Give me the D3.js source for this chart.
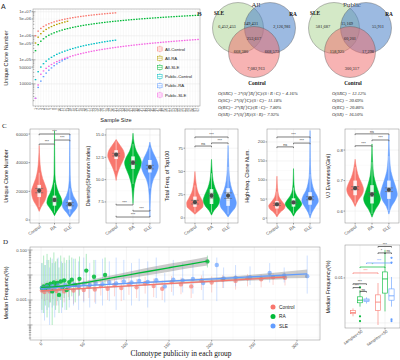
<!DOCTYPE html>
<html><head><meta charset="utf-8">
<script src="https://cdn.jsdelivr.net/npm/d3@7"></script>
<style>body{margin:0;background:#fff}svg{display:block}</style>
</head><body><svg id="c" width="400" height="360"></svg>
<script>
// ================= DATA =================
// Panel A: rarefaction (unique clone number vs sample size)
const sampleSizes = [1,2,3,4,5,6,7,8,9,10,11,12,13,14,15,16,17,18,19,20,21,22,23,24,25,26,27,28,29,30,31,32,33,34,35,36,37,38,39,40,41,42,43,44,45,46,47,48,49,50,51,52,53,54,55,56,57,58,59,60,61,62];
const aSeriesNames = ["All-Control","All-RA","All-SLE","Public-Control","Public-RA","Public-SLE"];
const allControl = [1.00e6,1.56e6,2.02e6,2.43e6,2.80e6,3.15e6,3.47e6,3.78e6,4.08e6,4.37e6,4.64e6,4.91e6,5.17e6,5.42e6,5.66e6,5.90e6,6.13e6,6.36e6,6.58e6,6.80e6,7.02e6,7.23e6,7.44e6,7.64e6,7.85e6,8.04e6,8.24e6,8.43e6,8.62e6,8.81e6,8.99e6];
const allRA = [5.0e5,8.75e5,1.22e6,1.54e6,1.84e6,2.14e6,2.42e6,2.70e6,2.97e6,3.23e6,3.49e6,3.75e6,4.00e6];
const allSLE = [240000,428000,595000,752000,905000,1053000,1194000,1331000,1466000,1599000,1728000,1856000,1982000,2105000,2229000,2347000,2468000,2589000,2710000,2831000,2928000,3049000,3170000,3267000,3388000,3509000,3606000,3727000,3824000,3945000,4041000,4138000,4259000,4356000,4453000,4574000,4671000,4767000,4864000,4985000,5082000,5179000,5276000,5372000,5469000,5566000,5687000,5784000,5881000,5977000,6074000,6171000,6268000,6365000,6461000,6558000,6655000,6752000,6849000,6945000,7042000,7139000];
const pubControl = [15000,32000,50000,69000,88000,108000,127000,148000,169000,189000,209000,230000,250000,273000,294000,316000,339000,361000,384000,405000,426000,449000,471000,493000,518000,543000,565000,588000,611000,635000,656000];
const pubRA = [2500,7100,13000,20000,28000,37000,46000,57000,68000,79000,91000,104000,117000];
const pubSLE = [2500,9000,25100,34500,44100,53800,63800,73900,84100,94400,104900,115400,126000,136700,147500,158400,169200,180200,191200,202000,213600,224700,236000,247300,258800,270000,281700,293200,304500,316000,327800,339400,351200,362900,374600,386400,398200,410000,422000,433800,445900,457700,469900,481800,493800,505800,518200,530300,542400,554600,566900,578800,591000,603400,615900,628300,640400,652900,665200,677700,689900,702500];
const aTicks = [1e4,5e4,1e5,5e5,1e6,5e6,1e7];
const aTickLabels = ["10000","50000","1e+05","5e+05","1e+06","5e+06","1e+07"];

// Panel B: Venn counts [S only, S∩R, R only, S∩R∩C, S∩C, R∩C, C only]
const vennSets = ["SLE","RA","Control"];
const vennAll = ["6,452,453","149,431","2,126,981","253,617","668,380","668,573","7,082,913"];
const vennPublic = ["581,687","15,169","55,911","60,201","158,925","17,298","300,317"];
const overlapAllText = ["O(SRC) = 3*(S⋂R⋂C)/(S+R+C) = 4.16%","O(SC)= 2*(S⋂C)/(S+C)= 11.18%","O(RC)= 2*(R⋂C)/(R+C)= 7.80%","O(SR)= 2*(S⋂R)/(S+R)= 7.92%"];
const overlapPublicText = ["O(SRC) = 12.12%","O(SC) = 30.69%","O(RC) = 20.80%","O(SR) = 16.50%"];

// Panel C: violins  ([value, relative width])
const groups = ["Control","RA","SLE"];
const uniqueViolin = [
 [[6000,0],[9000,0.25],[13000,0.7],[17000,0.95],[20000,1],[24000,0.8],[29000,0.45],[35000,0.2],[42000,0.08],[52000,0]],
 [[3000,0],[6000,0.3],[9000,0.7],[12000,1],[15000,0.9],[19000,0.55],[25000,0.2],[32000,0.06],[45000,0.03],[62000,0]],
 [[2000,0],[5000,0.4],[8000,0.85],[10500,1],[13000,0.85],[17000,0.45],[23000,0.15],[32000,0.05],[45000,0.025],[60000,0]]];
const uniqueBox = [[9000,16000,19500,24500,33000],[5000,10000,13000,17000,26000],[4000,7500,10000,14000,22000]];
const uniqueMean = [[20500,1500],[14000,1200],[11000,1100]];
const uniqueSig = [[0,2,60000,"***"],[0,1,53000,"***"],[1,2,55800,"***"]];

const divViolin = [
 [[9.9,0],[10.6,0.15],[11.3,0.4],[12.0,0.75],[12.7,1],[13.3,0.85],[13.8,0.5],[14.2,0.2],[14.5,0]],
 [[7.3,0],[8.5,0.08],[9.5,0.2],[10.5,0.5],[11.3,0.85],[11.9,1],[12.5,0.8],[13.2,0.4],[14.0,0.15],[15.2,0]],
 [[5.8,0],[7.5,0.05],[9.0,0.15],[10.0,0.4],[10.8,0.8],[11.5,1],[12.2,0.8],[12.9,0.45],[13.6,0.15],[14.2,0]]];
const divBox = [[11.0,12.3,12.8,13.3,14.3],[9.5,11.2,11.9,12.6,14.0],[9.0,10.8,11.5,12.2,13.6]];
const divMean = [[12.8,0.15],[11.9,0.2],[11.4,0.2]];
const divSig = [[0,1,7.16,"***"],[1,2,6.48,"***"],[0,2,5.81,"***"]];

const topViolin = [
 [[4,0],[8,0.5],[12,0.95],[16,1],[21,0.75],[27,0.4],[34,0.2],[42,0.08],[50,0]],
 [[3,0],[8,0.3],[13,0.75],[19,1],[25,0.8],[32,0.45],[40,0.2],[50,0.08],[63,0]],
 [[1,0],[6,0.4],[11,0.85],[16,1],[23,0.8],[31,0.45],[40,0.22],[52,0.1],[65,0.04],[78,0]]];
const topBox = [[6,12,16,23,35],[6,15,21,31,48],[4,13,19,32,55]];
const topMean = [[17,2],[24,2.5],[24,3]];
const topSig = [[0,2,87,"***"],[0,1,77.3,"ns"],[1,2,80.6,"***"]];

const highViolin = [
 [[3,0],[15,0.4],[25,0.9],[32,1],[40,0.75],[52,0.35],[70,0.12],[90,0.04],[110,0]],
 [[5,0],[18,0.35],[30,0.85],[37,1],[46,0.8],[58,0.4],[75,0.12],[100,0.04],[130,0]],
 [[0,0],[15,0.25],[30,0.65],[45,1],[58,0.85],[72,0.5],[90,0.25],[120,0.08],[160,0.03],[230,0]]];
const highBox = [[10,25,33,45,70],[12,30,38,52,80],[10,35,48,68,115]];
const highMean = [[36,3],[41,3],[52,4]];
const highSig = [[0,2,213,"***"],[0,1,187,"ns"],[1,2,197,"***"]];

const vjViolin = [
 [[0.615,0],[0.635,0.35],[0.655,0.85],[0.67,1],[0.69,0.8],[0.71,0.45],[0.735,0.2],[0.755,0.07],[0.77,0]],
 [[0.58,0],[0.605,0.4],[0.625,0.85],[0.64,1],[0.66,0.8],[0.685,0.5],[0.715,0.22],[0.76,0.08],[0.82,0]],
 [[0.59,0],[0.615,0.3],[0.635,0.75],[0.655,1],[0.675,0.85],[0.70,0.55],[0.73,0.25],[0.77,0.1],[0.85,0]]];
const vjBox = [[0.625,0.652,0.672,0.70,0.745],[0.59,0.625,0.648,0.685,0.76],[0.60,0.64,0.662,0.70,0.78]];
const vjMean = [[0.675,0.005],[0.655,0.006],[0.67,0.006]];
const vjSig = [[0,2,0.853,"ns"],[0,1,0.814,"***"],[1,2,0.833,"***"]];

// Panel D: [publicity, median freq, lower, upper]
const pubControlPts = [[1,0.0024,0.0011,0.0048],[4,0.0021,0.0009,0.0050],[7,0.0027,0.0010,0.0060],[10,0.0022,0.0008,0.0052],[14,0.0028,0.0011,0.0058],[18,0.0023,0.0006,0.0070],[22,0.0029,0.0012,0.0055],[27,0.0022,0.0008,0.0062],[32,0.0030,0.0013,0.0058],[38,0.0024,0.0007,0.0066],[44,0.0032,0.0014,0.0062],[50,0.0025,0.0009,0.0075],[56,0.0034,0.0012,0.0064],[63,0.0026,0.0008,0.0066],[70,0.0036,0.0015,0.0072],[78,0.0028,0.0010,0.0066],[86,0.0040,0.0014,0.0080],[94,0.0030,0.0009,0.0070],[103,0.0043,0.0016,0.0078],[112,0.0032,0.0012,0.0068],[122,0.0047,0.0018,0.0085],[132,0.0036,0.0013,0.0072],[142,0.0028,0.0010,0.0060],[153,0.0052,0.0021,0.0090],[164,0.0042,0.0017,0.0080],[176,0.0035,0.0012,0.0065],[188,0.0060,0.0025,0.0095],[200,0.0050,0.0020,0.0088],[213,0.0066,0.0030,0.0100],[228,0.0058,0.0026,0.0095],[242,0.0074,0.0035,0.0110],[258,0.0068,0.0032,0.0105],[272,0.0082,0.0040,0.0120],[286,0.0078,0.0038,0.0115]];
const pubRAPts = [[1,0.0030,0.0004,0.030],[3,0.0035,0.0003,0.060],[5,0.0028,0.0006,0.025],[7,0.0040,0.0002,0.070],[9,0.0033,0.0005,0.040],[11,0.0045,0.0008,0.050],[13,0.0022,0.0001,0.030],[15,0.0050,0.0006,0.080],[17,0.0036,0.0004,0.035],[19,0.0048,0.0009,0.045],[21,0.0016,0.0003,0.020],[23,0.0055,0.0010,0.060],[25,0.0032,0.0005,0.030],[27,0.0060,0.0012,0.050],[30,0.0025,0.0004,0.040],[33,0.0052,0.0010,0.060],[36,0.0065,0.0014,0.050],[40,0.0040,0.0008,0.045],[45,0.0070,0.0015,0.055],[53,0.0150,0.0030,0.070],[62,0.0085,0.0025,0.040],[75,0.0100,0.0030,0.050],[195,0.035,0.020,0.060]];
const pubSLEPts = [[1,0.0031,0.0003,0.030],[4,0.0029,0.00015,0.025],[7,0.0034,0.0004,0.040],[10,0.0027,0.0001,0.020],[13,0.0036,0.0005,0.045],[16,0.0030,0.0002,0.030],[20,0.0038,0.0006,0.050],[24,0.0033,0.0003,0.035],[28,0.0040,0.0004,0.030],[33,0.0035,0.0005,0.040],[38,0.0042,0.0006,0.045],[44,0.0037,0.0004,0.035],[50,0.0045,0.0008,0.050],[57,0.0040,0.0005,0.030],[64,0.0048,0.0007,0.040],[72,0.0043,0.0006,0.045],[80,0.0052,0.0009,0.035],[88,0.0046,0.0004,0.050],[97,0.0055,0.0010,0.040],[106,0.0050,0.0006,0.030],[115,0.0058,0.0009,0.045],[125,0.0053,0.0005,0.035],[135,0.0062,0.0012,0.050],[145,0.0035,0.0008,0.012],[155,0.0065,0.0015,0.040],[166,0.0060,0.0020,0.030],[178,0.0070,0.0018,0.035],[190,0.0048,0.0010,0.015],[206,0.0250,0.0009,0.050],[214,0.0072,0.0030,0.020],[228,0.0078,0.0035,0.025],[245,0.0080,0.0040,0.022],[268,0.0120,0.0050,0.030],[285,0.0095,0.0050,0.020],[312,0.0090,0.0018,0.060]];
// fitted trend [x, fit, lower, upper]
const fitControl = [[0,0.0023,0.0021,0.0025],[72,0.0032,0.0030,0.0034],[143,0.0044,0.0041,0.0047],[215,0.0060,0.0054,0.0067],[286,0.0083,0.0068,0.0101]];
const fitRA = [[0,0.0032,0.0029,0.0036],[25,0.0036,0.0033,0.0040],[50,0.0048,0.0042,0.0055],[75,0.0069,0.0055,0.0087],[100,0.0097,0.0072,0.013],[125,0.0138,0.0098,0.0195],[150,0.0195,0.0135,0.028],[175,0.0275,0.019,0.040],[195,0.036,0.024,0.054]];
const fitSLE = [[0,0.0030,0.0028,0.0032],[78,0.0042,0.0040,0.0044],[156,0.0058,0.0053,0.0063],[234,0.0080,0.0068,0.0094],[312,0.0111,0.0075,0.0165]];
const dXTicks = [0,50,100,150,200,250,300];

// Panel D right: boxes [min, q1, median, q3, max], outliers
const boxCats = ["samples<50","samples>=50"];
const boxLow = [[0.0014,0.0016,0.0017,0.0019,0.0021],[0.0023,0.0028,0.0032,0.0038,0.0054],[0.0027,0.0030,0.0032,0.0034,0.0037]];
const boxHigh = [[0.0009,0.0019,0.0029,0.0042,0.0077],[0.0018,0.0046,0.0095,0.0136,0.042],[0.0023,0.0032,0.0040,0.0057,0.0105]];
const outLow = [[],[0.0062,0.0014,0.0011],[]];
const outHigh = [[],[],[0.028,0.022,0.0012,0.0011]];
// [cat1, group1, cat2, group2, y value, label, colour index (-1 = black)]
const boxSig = [[1,0,1,2,0.050,"***",-1],[1,0,1,1,0.036,"*",-1],[1,1,1,2,0.036,"ns",-1],[0,2,1,2,0.0215,"***",2],[0,1,1,1,0.0175,"*",1],[0,0,1,0,0.0129,"***",0],[0,0,0,2,0.0074,"***",-1],[0,0,0,1,0.0061,"***",-1],[0,1,0,2,0.0050,"ns",-1]];

// ================= DRAWING =================
const SANS = '"Liberation Sans", Arial, sans-serif';
const SERIF = '"Liberation Serif", "Times New Roman", serif';
const gCol = ["#F8766D","#00BA38","#619CFF"];
const aColors = ["#F8766D","#B79F00","#00BA38","#00BFC4","#619CFF","#F564E3"];
const svg = d3.select("#c");
svg.append("rect").attr("width",400).attr("height",360).attr("fill","#fff");

function txt(g,x,y,s,size,o={}){
  const t=g.append("text").attr("x",x).attr("y",y).text(s).attr("font-size",size)
    .attr("font-family",o.family||SANS).attr("fill",o.fill||"#222");
  if(o.anchor)t.attr("text-anchor",o.anchor);
  if(o.rotate!=null)t.attr("transform",`rotate(${o.rotate},${x},${y})`);
  if(o.weight)t.attr("font-weight",o.weight);
  if(o.style)t.attr("font-style",o.style);
  return t;
}
function hline(g,x1,x2,y,c,w){g.append("line").attr("x1",x1).attr("x2",x2).attr("y1",y).attr("y2",y).attr("stroke",c).attr("stroke-width",w);}
function vline(g,x,y1,y2,c,w){g.append("line").attr("x1",x).attr("x2",x).attr("y1",y1).attr("y2",y2).attr("stroke",c).attr("stroke-width",w);}
function frame(g,x0,y0,x1,y1){g.append("rect").attr("x",x0).attr("y",y0).attr("width",x1-x0).attr("height",y1-y0).attr("fill","none").attr("stroke","#8a8a8a").attr("stroke-width",0.5);}

// panel letters
txt(svg,1,9,"A",7,{family:SANS});
txt(svg,197,16,"B",7,{family:SERIF,weight:"bold"});
txt(svg,2,128,"C",7,{family:SERIF});
txt(svg,3,244,"D",7,{family:SERIF});

// ---------- Panel A ----------
(function(){
  const g=svg.append("g");
  const X0=33,X1=200,Y0=9,Y1=106;
  const x=d3.scalePoint().domain(sampleSizes).range([35.5,198]);
  const y=d3.scaleLog().domain([1200,1.3e7]).range([Y1,Y0]);
  [5e3,5e4,5e5,5e6].forEach(v=>hline(g,X0,X1,y(v),"#f2f2f2",0.35));
  [1e4,1e5,1e6,1e7].forEach(v=>hline(g,X0,X1,y(v),"#e6e6e6",0.5));
  sampleSizes.forEach(s=>vline(g,x(s),Y0,Y1,"#ececec",0.35));
  frame(g,X0,Y0,X1,Y1);
  for(let d=3; d<=7; d++){ for(let m=1;m<=9;m++){ const v=m*Math.pow(10,d); if(v<1200||v>1.3e7)continue;
    hline(g,X0,X0+(m===1?2.5:1.3),y(v),"#444",0.4);} }
  aTicks.forEach((v,i)=>{hline(g,X0-1.5,X0,y(v),"#444",0.5); txt(g,X0-2,y(v)+1.5,aTickLabels[i],4.2,{anchor:"end",fill:"#4d4d4d"});});
  sampleSizes.forEach(s=>{vline(g,x(s),Y1,Y1+1.2,"#444",0.3); txt(g,x(s)+1.1,Y1+2,String(s),3.1,{anchor:"end",rotate:-90,fill:"#4d4d4d"});});
  txt(g,116,122,"Sample Size",5.6,{anchor:"middle",fill:"#222"});
  txt(g,8,58,"Unique Clone Number",5.6,{anchor:"middle",rotate:-90});
  const series=[allControl,allRA,allSLE,pubControl,pubRA,pubSLE];
  series.forEach((arr,k)=>{
    g.selectAll(null).data(arr).join("rect")
      .attr("x",(d,i)=>x(sampleSizes[i])-0.8).attr("y",d=>y(d)-0.65)
      .attr("width",1.6).attr("height",1.3).attr("fill",aColors[k]);
  });
  const ly=[49,58.2,67.4,76.6,85.8,95];
  aSeriesNames.forEach((n,k)=>{
    const c=aColors[k];
    g.append("rect").attr("x",157.5).attr("y",ly[k]-2).attr("width",4.6).attr("height",4).attr("fill","#fff").attr("stroke",c).attr("stroke-width",0.5);
    hline(g,157.5,162.1,ly[k],c,0.5);
    vline(g,159.8,ly[k]-3.3,ly[k]-2,c,0.5); vline(g,159.8,ly[k]+2,ly[k]+3.3,c,0.5);
    txt(g,165,ly[k]+1.5,n,4.3,{fill:"#222"});
  });
})();

// ---------- Panel B ----------
(function(){
  const g=svg.append("g");
  const fills=["#a9d48f","#4a82c8","#ef6868"], ops=[0.5,0.55,0.5];
  const circOff=[[-16,0],[16,0],[0,24]];
  const numOff=[[-27,-2],[-3,-5],[28,-2],[0,10],[-13,23],[18,23],[2,40]];
  const setOff=[[-35,-15],[39,-14],[3,55.5]];
  const venns=[{cx:254,cy:28,title:"All",nums:vennAll},{cx:350,cy:28,title:"Public",nums:vennPublic}];
  venns.forEach(v=>{
    txt(g,v.cx+2,7,v.title,7,{family:SERIF,anchor:"middle"});
    circOff.forEach((o,i)=>g.append("circle").attr("cx",v.cx+o[0]).attr("cy",v.cy+o[1]).attr("r",25.5)
      .attr("fill",fills[i]).attr("fill-opacity",ops[i]).attr("stroke","#555").attr("stroke-width",0.4));
    v.nums.forEach((s,i)=>txt(g,v.cx+numOff[i][0],v.cy+numOff[i][1]+1.5,s,4.4,{family:SERIF,anchor:"middle",fill:"#222"}));
    vennSets.forEach((s,i)=>txt(g,v.cx+setOff[i][0],v.cy+setOff[i][1]+1.8,s,5.3,{family:SERIF,anchor:"middle",weight:"bold",fill:"#111"}));
  });
  const ys=[94.5,101.7,109,116.2];
  overlapAllText.forEach((s,i)=>txt(g,218,ys[i],s,4.6,{family:SERIF,style:"italic",fill:"#222"}));
  overlapPublicText.forEach((s,i)=>txt(g,332,ys[i],s,4.6,{family:SERIF,style:"italic",fill:"#222"}));
})();

// ---------- Panel C ----------
const cPanels=[
 {x0:30,x1:79,dom:[-2100,63500],ticks:[0,20000,40000,60000],fmt:d=>String(d),ylab:"Unique Clone Number",ylx:8,v:uniqueViolin,b:uniqueBox,m:uniqueMean,s:uniqueSig,below:false},
 {x0:106,x1:160,dom:[5.14,15.67],ticks:[7.5,10,12.5,15],fmt:d=>d.toFixed(1),ylab:"Diversity(Shannon Index)",ylx:90,v:divViolin,b:divBox,m:divMean,s:divSig,below:true},
 {x0:185,x1:238,dom:[-5.4,95.6],ticks:[0,25,50,75],fmt:d=>String(d),ylab:"Total Freq. of Top100",ylx:169,v:topViolin,b:topBox,m:topMean,s:topSig,below:false},
 {x0:267,x1:320,dom:[-13,234],ticks:[0,50,100,150,200],fmt:d=>String(d),ylab:"High-freq. Clone Num.",ylx:249,v:highViolin,b:highBox,m:highMean,s:highSig,below:false},
 {x0:345,x1:399,dom:[0.561,0.869],ticks:[0.6,0.7,0.8],fmt:d=>d.toFixed(1),ylab:"VJ Evenness(Gini)",ylx:330,v:vjViolin,b:vjBox,m:vjMean,s:vjSig,below:false}];
cPanels.forEach(p=>{
  const g=svg.append("g");
  const Y0=129,Y1=223;
  const x=d3.scalePoint().domain(groups).range([p.x0,p.x1]).padding(0.6);
  const y=d3.scaleLinear().domain(p.dom).range([Y1,Y0]);
  const step=x.step();
  for(let i=0;i<p.ticks.length-1;i++) hline(g,p.x0,p.x1,y((p.ticks[i]+p.ticks[i+1])/2),"#f3f3f3",0.35);
  p.ticks.forEach(t=>hline(g,p.x0,p.x1,y(t),"#e8e8e8",0.5));
  groups.forEach(gr=>vline(g,x(gr),Y0,Y1,"#e8e8e8",0.5));
  frame(g,p.x0,Y0,p.x1,Y1);
  p.ticks.forEach(t=>{hline(g,p.x0-1.5,p.x0,y(t),"#444",0.5); txt(g,p.x0-2,y(t)+1.5,p.fmt(t),4.3,{anchor:"end",fill:"#4d4d4d"});});
  groups.forEach(gr=>{vline(g,x(gr),Y1,Y1+1.5,"#444",0.5); txt(g,x(gr)+2,Y1+4.5,gr,4.4,{anchor:"end",rotate:-35,fill:"#4d4d4d"});});
  txt(g,p.ylx,176,p.ylab,5.4,{anchor:"middle",rotate:-90});
  const hw=step*0.5;
  groups.forEach((gr,i)=>{
    const cx=x(gr);
    const area=d3.area().y(d=>y(d[0])).x0(d=>cx-d[1]*hw).x1(d=>cx+d[1]*hw).curve(d3.curveMonotoneY);
    g.append("path").attr("d",area(p.v[i])).attr("fill",gCol[i]).attr("stroke",gCol[i]).attr("stroke-width",0.5);
    const b=p.b[i];
    vline(g,cx,y(b[0]),y(b[4]),"#fff",0.5);
    g.append("rect").attr("x",cx-1.8).attr("y",y(b[3])).attr("width",3.6).attr("height",y(b[1])-y(b[3])).attr("fill","#fff").attr("fill-opacity",0.85);
    hline(g,cx-1.8,cx+1.8,y(b[2]),"#bbb",0.4);
    const m=p.m[i];
    vline(g,cx,y(m[0]-m[1]),y(m[0]+m[1]),"#555",0.5);
    hline(g,cx-4,cx+4,y(m[0]+m[1]),"#666",0.6);
    hline(g,cx-4,cx+4,y(m[0]-m[1]),"#666",0.6);
    g.append("circle").attr("cx",cx).attr("cy",y(m[0])).attr("r",2.1).attr("fill","#4a4a4a");
  });
  p.s.forEach(s=>{
    const xa=x(groups[s[0]]), xb=x(groups[s[1]]), yy=y(s[2]);
    const tip = p.below ? -1.2 : 1.2;
    g.append("path").attr("d",`M${xa},${yy+tip}V${yy}H${xb}V${yy+tip}`).attr("fill","none").attr("stroke","#6e6e6e").attr("stroke-width",0.9);
    txt(g,(xa+xb)/2,yy-1.1,s[3],3.8,{anchor:"middle",fill:"#333"});
  });
});

// ---------- Panel D (left) ----------
(function(){
  const g=svg.append("g");
  const X0=30,X1=320,Y0=247,Y1=340;
  const x=d3.scaleLinear().domain([-13,327]).range([X0,X1]);
  const y=d3.scaleLog().domain([2.5e-5,0.132]).range([Y1,Y0]);
  [25,75,125,175,225,275,325].forEach(v=>vline(g,x(v),Y0,Y1,"#f3f3f3",0.35));
  [3.16e-5,3.16e-4,3.16e-3,3.16e-2].forEach(v=>hline(g,X0,X1,y(v),"#f3f3f3",0.35));
  dXTicks.forEach(v=>vline(g,x(v),Y0,Y1,"#e8e8e8",0.5));
  [1e-4,1e-3,1e-2,1e-1].forEach(v=>hline(g,X0,X1,y(v),"#e8e8e8",0.5));
  frame(g,X0,Y0,X1,Y1);
  for(let d=-5; d<=-1; d++){ for(let m=1;m<=9;m++){ const v=m*Math.pow(10,d); if(v<2.5e-5||v>0.132)continue;
    hline(g,X0-(m===1?2.5:1.2),X0+(m===1?2.5:1.2),y(v),"#444",0.4);} }
  [[0.1,"0.100"],[0.001,"0.001"]].forEach(t=>txt(g,X0-3,y(t[0])+1.5,t[1],4.3,{anchor:"end",fill:"#4d4d4d"}));
  dXTicks.forEach(v=>{vline(g,x(v),Y1,Y1+1.5,"#444",0.5); txt(g,x(v)+1.5,Y1+4,String(v),4.3,{anchor:"end",rotate:-45,fill:"#4d4d4d"});});
  txt(g,181,356,"Clonotype publicity in each group",7.4,{family:SERIF,anchor:"middle",fill:"#111"});
  txt(g,8,293,"Median Frequency(%)",5.4,{anchor:"middle",rotate:-90});
  const sets=[[pubControlPts,0],[pubRAPts,1],[pubSLEPts,2]];
  sets.forEach(([arr,k])=>{
    g.selectAll(null).data(arr).join("line").attr("x1",d=>x(d[0])).attr("x2",d=>x(d[0]))
      .attr("y1",d=>y(d[2])).attr("y2",d=>y(d[3])).attr("stroke",gCol[k]).attr("stroke-opacity",0.35).attr("stroke-width",0.9);
  });
  sets.forEach(([arr,k])=>{
    g.selectAll(null).data(arr).join("circle").attr("cx",d=>x(d[0])).attr("cy",d=>y(d[1])).attr("r",2.2)
      .attr("fill",gCol[k]).attr("fill-opacity",k===1?0.85:0.65);
  });
  const fits=[[fitControl,0],[fitSLE,2],[fitRA,1]];
  fits.forEach(([f,k])=>{
    const band=d3.area().x(d=>x(d[0])).y0(d=>y(d[2])).y1(d=>y(d[3])).curve(d3.curveMonotoneX);
    g.append("path").attr("d",band(f)).attr("fill","#8c8c8c").attr("fill-opacity",0.45);
  });
  fits.forEach(([f,k])=>{
    const ln=d3.line().x(d=>x(d[0])).y(d=>y(d[1])).curve(d3.curveMonotoneX);
    g.append("path").attr("d",ln(f)).attr("fill","none").attr("stroke",gCol[k]).attr("stroke-width",1.3);
  });
  const ly=[307,316.5,326];
  groups.forEach((gr,i)=>{g.append("circle").attr("cx",273).attr("cy",ly[i]).attr("r",2.5).attr("fill",gCol[i]);
    txt(g,279,ly[i]+1.7,gr,4.8,{fill:"#222"});});
})();

// ---------- Panel D (right box plot) ----------
(function(){
  const g=svg.append("g");
  const X0=345,X1=400,Y0=245,Y1=328;
  const x=d3.scalePoint().domain(boxCats).range([X0,X1]).padding(0.6);
  const y=d3.scaleLog().domain([0.00077,0.054]).range([Y1,Y0]);
  const dx=[-7,0,6.5];
  [0.001,0.01].forEach(v=>hline(g,X0,X1,y(v),"#e8e8e8",0.5));
  boxCats.forEach(c=>vline(g,x(c),Y0,Y1,"#e8e8e8",0.5));
  frame(g,X0,Y0,X1,Y1);
  hline(g,X0-1.5,X0,y(0.01),"#444",0.5);
  txt(g,X0-2,y(0.01)+1.5,"0.01",4.3,{anchor:"end",fill:"#4d4d4d"});
  txt(g,330,287,"Median Frequency(%)",5.4,{anchor:"middle",rotate:-90});
  boxCats.forEach(c=>{vline(g,x(c),Y1,Y1+1.5,"#444",0.5); txt(g,x(c)+3,Y1+4,c,4.1,{anchor:"end",rotate:-35,fill:"#4d4d4d"});});
  [[boxLow,outLow,0],[boxHigh,outHigh,1]].forEach(([bx,out,ci])=>{
    bx.forEach((b,k)=>{
      const cx=x(boxCats[ci])+dx[k], c=gCol[k];
      vline(g,cx,y(b[0]),y(b[1]),c,0.6); vline(g,cx,y(b[3]),y(b[4]),c,0.6);
      g.append("rect").attr("x",cx-2.6).attr("y",y(b[3])).attr("width",5.2).attr("height",Math.max(0.8,y(b[1])-y(b[3])))
        .attr("fill","#fff").attr("stroke",c).attr("stroke-width",0.6);
      hline(g,cx-2.6,cx+2.6,y(b[2]),c,0.8);
      out[k].forEach(o=>g.append("circle").attr("cx",cx).attr("cy",y(o)).attr("r",1.1).attr("fill",c));
    });
  });
  boxSig.forEach(s=>{
    const xa=x(boxCats[s[0]])+dx[s[1]], xb=x(boxCats[s[2]])+dx[s[3]], yy=y(s[4]);
    const c=s[6]<0?"#333":gCol[s[6]];
    g.append("path").attr("d",`M${xa},${yy+1}V${yy}H${xb}V${yy+1}`).attr("fill","none").attr("stroke",c).attr("stroke-width",0.7);
    txt(g,(xa+xb)/2,yy-0.8,s[5],3.5,{anchor:"middle",fill:c});
  });
})();
</script></body></html>
